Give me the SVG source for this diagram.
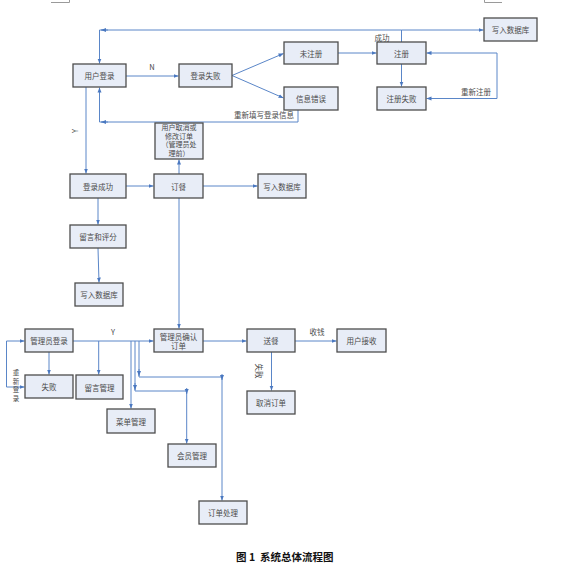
<svg xmlns="http://www.w3.org/2000/svg" width="568" height="576" viewBox="0 0 568 576">
<style>
.n rect{fill:#e8edf7;stroke:#4d4d4d;stroke-width:1.3}
.n text,.lb{font-family:"Noto Sans CJK SC","Liberation Serif",sans-serif;font-size:7.5px;fill:#4a4a4a;text-anchor:middle;dominant-baseline:central}
.n text.s{font-size:7px}
#conn path{fill:none;stroke:#5a86c8;stroke-width:1}
.cm{fill:none;stroke:#9a9a9a;stroke-width:1}
.cap{font-family:"Noto Sans CJK SC","Liberation Sans",sans-serif;font-size:10.5px;font-weight:bold;fill:#111}
</style>
<defs>
<marker id="a" viewBox="0 0 10 10" refX="10" refY="5" markerWidth="5" markerHeight="5" markerUnits="userSpaceOnUse" orient="auto-start-reverse">
<path d="M0,1 L10,5 L0,9 z" fill="#4a78c0"/>
</marker>
</defs>
<rect width="568" height="576" fill="#fff"/>
<path class="cm" d="M51,2.5 H69.5 V0 M484.5,0 V2.5 H502"/>

<g id="conn">
<path d="M401.5,42 V30 H99.5 V63.5" marker-end="url(#a)"/>
<path d="M401.5,30 H483.5" marker-end="url(#a)"/>
<path d="M108,30 H101" marker-end="url(#a)"/>
<path d="M126,76 H178.5" marker-end="url(#a)"/>
<path d="M232,75.5 L283.5,53.5" marker-end="url(#a)"/>
<path d="M232,75.5 L283.5,98" marker-end="url(#a)"/>
<path d="M338,53 H376.5" marker-end="url(#a)"/>
<path d="M401.5,64 V86.5" marker-end="url(#a)"/>
<path d="M426.5,98.5 H497 V53 H426.5" marker-start="url(#a)" marker-end="url(#a)"/>
<path d="M298,110 V122 H99.5 V87.5" marker-end="url(#a)"/>
<path d="M108,122 H101" marker-end="url(#a)"/>
<path d="M86,87 V173.5" marker-end="url(#a)"/>
<path d="M126,186 H153.5" marker-end="url(#a)"/>
<path d="M203,186 H257.5" marker-end="url(#a)"/>
<path d="M179,174 V159.5" marker-end="url(#a)"/>
<path d="M98,198 V224.5" marker-end="url(#a)"/>
<path d="M98,248 L99,282.5" marker-end="url(#a)"/>
<path d="M179,198 V328.5" marker-end="url(#a)"/>
<path d="M73,341 H153.5" marker-end="url(#a)"/>
<path d="M49,352 V374.5" marker-end="url(#a)"/>
<path d="M24.5,387 H6.5 V341 H24.5" marker-start="url(#a)" marker-end="url(#a)"/>
<path d="M98.7,341 V374.5" marker-end="url(#a)"/>
<path d="M131,341 V408.5" marker-end="url(#a)"/>
<path d="M135,341 V391 H186.7 V443.5" marker-end="url(#a)"/>
<path d="M135,383 V390" marker-end="url(#a)"/>
<path d="M186.7,388 V394" marker-end="url(#a)"/>
<path d="M139,341 V377 H222 V500.5" marker-end="url(#a)"/>
<path d="M139,369 V376" marker-end="url(#a)"/>
<path d="M222,374 V380" marker-end="url(#a)"/>
<path d="M203,341 H246.5" marker-end="url(#a)"/>
<path d="M295,341 H336.5" marker-end="url(#a)"/>
<path d="M271.5,352 V390.5" marker-end="url(#a)"/>
<text class="lb" x="152" y="66">N</text>
<text class="lb" x="382" y="37">成功</text>
<text class="lb" x="476" y="91">重新注册</text>
<text class="lb" x="264" y="114">重新填写登录信息</text>
<text class="lb" transform="translate(74,131) rotate(-90)">Y</text>
<text class="lb" x="113" y="331">Y</text>
<text class="lb" x="317" y="331">收钱</text>
<text class="lb" transform="translate(259,371) rotate(90)">失败</text>
<text class="lb" x="16" y="372" style="font-size:6.5px">重</text>
<text class="lb" x="16" y="380.5" style="font-size:6.5px">新</text>
<text class="lb" x="16" y="389" style="font-size:6.5px">登</text>
<text class="lb" x="16" y="397.5" style="font-size:6.5px">录</text>
</g>

<g id="n1" class="n"><rect x="73" y="64" width="53" height="23"/><text x="99.5" y="75.5">用户登录</text></g>
<g id="n2" class="n"><rect x="179" y="64" width="53" height="23"/><text x="205.5" y="75.5">登录失败</text></g>
<g id="n3" class="n"><rect x="284" y="42" width="54" height="22"/><text x="311" y="53">未注册</text></g>
<g id="n4" class="n"><rect x="284" y="87" width="54" height="23"/><text x="311" y="98.5">信息错误</text></g>
<g id="n5" class="n"><rect x="377" y="42" width="49" height="22"/><text x="401.5" y="53">注册</text></g>
<g id="n6" class="n"><rect x="377" y="87" width="49" height="23"/><text x="401.5" y="98.5">注册失败</text></g>
<g id="n7" class="n"><rect x="484" y="18" width="53" height="23"/><text x="510.5" y="29.5">写入数据库</text></g>
<g id="n8" class="n"><rect x="155" y="123" width="48" height="36"/><text class="s" x="179" y="127">用户取消或</text><text class="s" x="179" y="135.7">修改订单</text><text class="s" x="179" y="144.4">（管理员处</text><text class="s" x="179" y="153.1">理前）</text></g>
<g id="n9" class="n"><rect x="70" y="174" width="56" height="24"/><text x="98" y="186">登录成功</text></g>
<g id="n10" class="n"><rect x="154" y="174" width="49" height="24"/><text x="178.5" y="186">订餐</text></g>
<g id="n11" class="n"><rect x="258" y="174" width="48" height="24"/><text x="282" y="186">写入数据库</text></g>
<g id="n12" class="n"><rect x="70" y="225" width="56" height="23"/><text x="98" y="236.5">留言和评分</text></g>
<g id="n13" class="n"><rect x="75" y="283" width="48" height="23"/><text x="99" y="294.5">写入数据库</text></g>
<g id="n14" class="n"><rect x="25" y="329" width="48" height="23"/><text x="49" y="340.5">管理员登录</text></g>
<g id="n15" class="n"><rect x="25" y="375" width="48" height="23"/><text x="49" y="386.5">失败</text></g>
<g id="n16" class="n"><rect x="76" y="375" width="47" height="24"/><text x="99.5" y="387">留言管理</text></g>
<g id="n17" class="n"><rect x="107" y="409" width="48" height="24"/><text x="131" y="421">菜单管理</text></g>
<g id="n18" class="n"><rect x="168" y="444" width="48" height="23"/><text x="192" y="455.5">会员管理</text></g>
<g id="n19" class="n"><rect x="199" y="501" width="48" height="23"/><text x="223" y="512.5">订单处理</text></g>
<g id="n20" class="n"><rect x="154" y="329" width="49" height="23"/><text x="178.5" y="336">管理员确认</text><text x="178.5" y="345.5">订单</text></g>
<g id="n21" class="n"><rect x="247" y="329" width="48" height="23"/><text x="271" y="340.5">送餐</text></g>
<g id="n22" class="n"><rect x="337" y="329" width="49" height="23"/><text x="361.5" y="340.5">用户接收</text></g>
<g id="n23" class="n"><rect x="247" y="391" width="48" height="23"/><text x="271" y="402.5">取消订单</text></g>

<text class="cap" y="561"><tspan x="236">图</tspan><tspan x="249">1</tspan><tspan x="260">系统总体流程图</tspan></text>
</svg>
